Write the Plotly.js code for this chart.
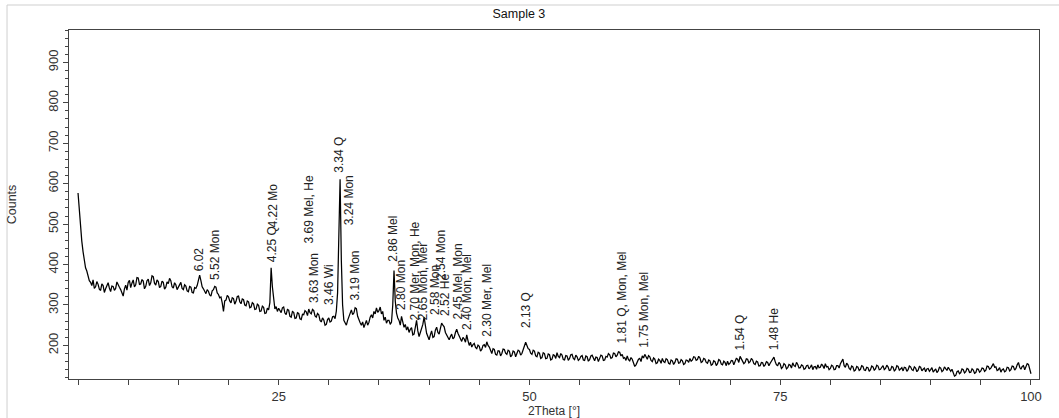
<!DOCTYPE html>
<html>
<head>
<meta charset="utf-8">
<script src="https://cdn.plot.ly/plotly-3.0.1.min.js"></script>
<style>
  html, body { margin: 0; padding: 0; background: #ffffff; }
  #chart { width: 1059px; height: 418px; }
</style>
</head>
<body>
<div id="chart"></div>
<script>
// Scan parameters (2Theta, degrees)
const startAngle = 5.0;
const stepSize = 0.125;

// Counts, one value per step from 5.000 to 100.000 deg (40 per 5 deg row)
const counts = [
  577, 530, 495, 458, 432, 410, 392, 384, 371, 360, 356, 348, 362, 341, 345, 358, 351, 339, 336, 352, 348, 331, 340, 350, 355, 342, 333, 347, 346, 336, 341, 357, 352, 344, 338, 329, 322, 340, 349, 337,
  356, 361, 343, 354, 362, 345, 350, 368, 367, 351, 352, 363, 359, 340, 346, 360, 364, 348, 355, 372, 370, 354, 349, 362, 358, 343, 346, 359, 356, 339, 344, 357, 353, 366, 360, 345, 342, 355, 350, 338,
  345, 352, 356, 341, 338, 350, 347, 335, 333, 346, 344, 331, 330, 343, 341, 348, 358, 374, 360, 345, 340, 332, 328, 338, 334, 325, 322, 335, 338, 346, 344, 330, 326, 318, 320, 305, 284, 310, 312, 324,
  320, 310, 305, 318, 316, 302, 309, 321, 322, 308, 303, 315, 313, 300, 298, 310, 308, 293, 295, 306, 303, 289, 290, 302, 299, 284, 285, 297, 294, 279, 280, 292, 288, 306, 392, 345, 312, 290, 296, 284,
  292, 284, 281, 293, 295, 280, 276, 289, 287, 272, 270, 284, 282, 267, 268, 281, 279, 266, 264, 277, 276, 286, 283, 274, 290, 281, 278, 289, 286, 273, 270, 279, 276, 262, 258, 268, 263, 250, 252, 264,
  268, 258, 260, 271, 272, 266, 285, 330, 505, 611, 410, 300, 262, 255, 250, 262, 270, 282, 288, 276, 280, 293, 291, 272, 262, 256, 250, 258, 244, 252, 262, 250, 257, 270, 276, 268, 284, 278, 293, 282,
  286, 295, 278, 284, 262, 270, 255, 262, 262, 252, 258, 300, 385, 310, 280, 268, 262, 250, 272, 258, 245, 252, 238, 246, 232, 240, 244, 226, 228, 245, 262, 236, 222, 232, 240, 252, 270, 244, 230, 222,
  214, 226, 236, 220, 222, 238, 245, 232, 228, 242, 255, 250, 246, 232, 225, 218, 214, 222, 228, 216, 220, 232, 240, 230, 222, 214, 210, 220, 216, 208, 226, 212, 200, 208, 196, 202, 205, 195, 192, 201,
  198, 186, 190, 200, 202, 195, 209, 200, 196, 188, 180, 192, 190, 178, 176, 187, 186, 174, 180, 191, 190, 181, 178, 188, 186, 172, 175, 186, 184, 172, 178, 188, 186, 176, 180, 190, 196, 208, 200, 192,
  190, 181, 178, 188, 186, 174, 172, 183, 181, 168, 170, 182, 180, 167, 168, 179, 177, 164, 166, 177, 175, 168, 182, 173, 170, 180, 176, 165, 164, 175, 174, 163, 168, 177, 178, 168, 165, 176, 172, 163,
  166, 173, 175, 164, 163, 174, 172, 161, 165, 174, 176, 166, 162, 171, 170, 160, 167, 176, 174, 163, 164, 173, 171, 180, 177, 168, 170, 181, 180, 172, 176, 184, 183, 174, 178, 168, 170, 163, 174, 165,
  162, 170, 166, 155, 148, 152, 158, 166, 168, 160, 174, 169, 178, 170, 166, 175, 172, 163, 160, 169, 166, 155, 157, 166, 163, 156, 168, 160, 158, 167, 165, 156, 154, 164, 162, 153, 158, 167, 166, 156,
  157, 165, 162, 153, 155, 164, 163, 158, 168, 161, 164, 172, 171, 163, 165, 173, 169, 158, 160, 168, 166, 158, 156, 164, 162, 151, 153, 162, 160, 150, 155, 165, 163, 154, 152, 161, 158, 150, 161, 153,
  156, 163, 162, 152, 160, 168, 166, 158, 173, 166, 163, 155, 158, 167, 166, 157, 160, 168, 164, 155, 153, 161, 159, 149, 150, 158, 157, 148, 152, 160, 158, 150, 156, 161, 168, 171, 160, 152, 150, 158,
  154, 143, 146, 155, 152, 142, 145, 153, 151, 144, 157, 150, 148, 158, 153, 144, 145, 152, 150, 141, 143, 150, 151, 142, 146, 152, 140, 147, 148, 141, 152, 145, 146, 154, 150, 143, 155, 147, 148, 140,
  143, 151, 149, 140, 141, 150, 150, 144, 155, 162, 166, 150, 146, 156, 152, 143, 140, 149, 147, 137, 139, 148, 146, 138, 141, 150, 148, 139, 138, 146, 145, 136, 140, 149, 147, 139, 142, 151, 149, 140,
  141, 146, 150, 140, 143, 151, 147, 138, 139, 148, 146, 137, 140, 150, 148, 139, 143, 145, 137, 146, 145, 136, 140, 149, 147, 140, 138, 147, 144, 135, 139, 148, 146, 137, 141, 144, 135, 142, 143, 136,
  140, 145, 134, 139, 142, 133, 137, 146, 144, 135, 138, 147, 141, 138, 146, 139, 136, 141, 132, 124, 126, 135, 137, 130, 133, 142, 140, 132, 135, 143, 141, 133, 134, 142, 139, 131, 133, 142, 141, 134,
  137, 144, 143, 136, 139, 149, 148, 141, 144, 152, 155, 146, 147, 138, 140, 145, 134, 140, 142, 135, 137, 146, 145, 137, 140, 149, 148, 139, 143, 152, 158, 146, 141, 148, 150, 140, 146, 155, 153, 144,
  130
];

// Peak labels: text, 2Theta position, and the count level where the label starts
const labelText = [
  "6.02", "5.52 Mon", "4.25 Q", "4.22 Mo", "3.69 Mel, He", "3.63 Mon", "3.46 Wi",
  "3.34 Q", "3.24 Mon", "3.19 Mon", "2.86 Mel", "2.80 Mon", "2.70 Mer, Mon, He",
  "2.65 Mon, Mer", "2.58 Mon", "2.54 Mon", "2.52 He", "2.45 Mel, Mon", "2.40 Mon, Mel",
  "2.30 Mer, Mel", "2.13 Q", "1.81 Q, Mon, Mel", "1.75 Mon, Mel", "1.54 Q", "1.48 He"
];
const labelTheta = [
  17.09, 18.65, 24.30, 24.48, 28.06, 28.53, 29.97,
  31.07, 32.05, 32.57, 36.45, 37.26, 38.69,
  39.46, 40.57, 41.24, 41.58, 42.83, 43.77,
  45.77, 49.66, 59.24, 61.48, 71.02, 74.37
];
const labelCounts = [
  379, 357, 400, 488, 448, 300, 295,
  621, 493, 305, 401, 282, 258,
  258, 270, 356, 268, 258, 233,
  218, 238, 200, 188, 183, 183
];

const xTickVals = [25, 50, 75, 100];
const xTickText = ["25", "50", "75", "100"];
const yTickVals = [200, 300, 400, 500, 600, 700, 800, 900];

const theta = counts.map((_, i) => +(startAngle + i * stepSize).toFixed(3));

const trace = {
  type: "scatter",
  mode: "lines",
  x: theta,
  y: counts,
  line: { color: "#000000", width: 1.25 },
  hoverinfo: "x+y",
  showlegend: false
};

const font = "Liberation Sans, Arial, sans-serif";

const annotations = labelText.map((t, i) => ({
  x: labelTheta[i],
  y: labelCounts[i],
  xref: "x",
  yref: "y",
  text: t,
  showarrow: false,
  textangle: -90,
  xanchor: "center",
  yanchor: "bottom",
  font: { family: font, size: 12, color: "#222222" }
}));

const layout = {
  width: 1059,
  height: 418,
  paper_bgcolor: "#ffffff",
  plot_bgcolor: "#ffffff",
  margin: { l: 69, r: 20, t: 30, b: 39, pad: 0 },
  font: { family: font, size: 12, color: "#222222" },
  title: {
    text: "Sample 3",
    x: 0.49,
    xanchor: "center",
    y: 0.968,
    yanchor: "middle",
    font: { family: font, size: 12.5, color: "#111111" }
  },
  xaxis: {
    range: [4.1, 100.8],
    tickmode: "array",
    tickvals: xTickVals,
    ticktext: xTickText,
    ticks: "outside",
    ticklen: 5,
    tickcolor: "#444444",
    minor: { dtick: 5, tick0: 0, ticks: "outside", ticklen: 5, tickcolor: "#444444", showgrid: false },
    showgrid: false,
    zeroline: false,
    showline: true,
    linecolor: "#444444",
    linewidth: 1,
    mirror: true,
    tickfont: { family: font, size: 13, color: "#333333" },
    title: { text: "2Theta [°]", standoff: 2, font: { family: font, size: 12, color: "#333333" } }
  },
  yaxis: {
    range: [117, 980],
    tickmode: "array",
    tickvals: yTickVals,
    ticks: "outside",
    ticklen: 5,
    tickcolor: "#444444",
    minor: { dtick: 20, tick0: 0, ticks: "outside", ticklen: 3, tickcolor: "#444444", showgrid: false },
    tickangle: -90,
    showgrid: false,
    zeroline: false,
    showline: true,
    linecolor: "#444444",
    linewidth: 1,
    mirror: true,
    tickfont: { family: font, size: 13, color: "#333333" },
    title: { text: "Counts", standoff: 26, font: { family: font, size: 12.5, color: "#333333" } }
  },
  shapes: [
    {
      type: "rect", xref: "paper", yref: "paper",
      x0: -0.0639, x1: 1.05, y0: -0.2, y1: 1.0716,
      line: { color: "#cfcfcf", width: 1 }, fillcolor: "rgba(0,0,0,0)", layer: "below"
    }
  ],
  annotations: annotations
};

Plotly.newPlot("chart", [trace], layout, { displayModeBar: false, staticPlot: true });
</script>
</body>
</html>
